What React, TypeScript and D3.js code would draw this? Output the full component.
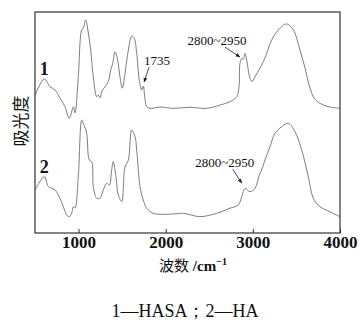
import React, { useRef, useEffect } from "react";
import * as d3 from "d3";

// wavenumber (cm-1) and absorbance (curves are stacked)
const waveHASA = [500, 607, 672, 730, 787, 844, 894, 940, 959, 997, 1036, 1054, 1082, 1112, 1139, 1169, 1208, 1226, 1246, 1265, 1303, 1341, 1369, 1392, 1418, 1444, 1475, 1502, 1533, 1571, 1610, 1639, 1667, 1697, 1724, 1743, 1757, 1782, 1820, 1934, 2087, 2279, 2470, 2623, 2738, 2815, 2841, 2852, 2872, 2890, 2910, 2929, 2967, 2990, 3025, 3082, 3120, 3159, 3216, 3292, 3388, 3464, 3541, 3598, 3656, 3713, 3808, 3885, 4000];
const absHASA = [0.624, 0.697, 0.662, 0.647, 0.611, 0.571, 0.519, 0.571, 0.543, 0.707, 0.919, 0.926, 0.964, 0.905, 0.828, 0.707, 0.617, 0.624, 0.611, 0.639, 0.662, 0.685, 0.738, 0.768, 0.819, 0.792, 0.707, 0.655, 0.723, 0.828, 0.891, 0.881, 0.813, 0.692, 0.647, 0.665, 0.624, 0.571, 0.564, 0.57, 0.564, 0.569, 0.564, 0.579, 0.594, 0.617, 0.662, 0.768, 0.79, 0.786, 0.813, 0.783, 0.7, 0.686, 0.707, 0.747, 0.775, 0.813, 0.873, 0.919, 0.946, 0.919, 0.828, 0.747, 0.656, 0.605, 0.579, 0.57, 0.564];

const waveHA = [500, 607, 653, 730, 787, 825, 864, 894, 921, 940, 959, 997, 1036, 1054, 1093, 1123, 1151, 1169, 1208, 1246, 1284, 1323, 1353, 1380, 1398, 1429, 1456, 1495, 1533, 1571, 1610, 1648, 1667, 1705, 1743, 1782, 1857, 2087, 2202, 2393, 2585, 2738, 2833, 2872, 2910, 2967, 3025, 3074, 3101, 3139, 3197, 3254, 3331, 3407, 3484, 3560, 3636, 3694, 3770, 3885, 4000];
const absHA = [0.195, 0.255, 0.21, 0.195, 0.157, 0.119, 0.081, 0.074, 0.089, 0.119, 0.112, 0.255, 0.511, 0.496, 0.451, 0.33, 0.323, 0.21, 0.157, 0.157, 0.195, 0.225, 0.217, 0.285, 0.323, 0.255, 0.172, 0.142, 0.3, 0.33, 0.466, 0.436, 0.376, 0.21, 0.149, 0.112, 0.089, 0.086, 0.089, 0.074, 0.089, 0.112, 0.127, 0.164, 0.202, 0.187, 0.202, 0.262, 0.285, 0.33, 0.391, 0.451, 0.481, 0.496, 0.458, 0.376, 0.255, 0.157, 0.119, 0.096, 0.074];

const xTicks = [1000, 2000, 3000, 4000];

const curveLabels = ["1", "2"];
const curveLabelWave = [607, 607];
const curveLabelAbs = [0.715, 0.27];

// arrows: tip position on the curve, text placed relative to it
const noteText = ["1735", "2800~2950", "2800~2950"];
const noteWave = [1752, 2852, 2872];
const noteAbs = [0.683, 0.796, 0.226];

const caption = "1—HASA；2—HA";

const App = () => {
  const svgRef = useRef(null);

  useEffect(() => {
    const svg = d3.select(svgRef.current);
    svg.selectAll("*").remove();

    const margin = { top: 12, right: 20, bottom: 87, left: 35 };
    const width = 360 - margin.left - margin.right;
    const height = 320 - margin.top - margin.bottom;

    const x = d3.scaleLinear().domain([500, 4000]).range([0, width]);
    const y = d3.scaleLinear().domain([0, 1]).range([height, 0]);

    const g = svg
      .append("g")
      .attr("transform", `translate(${margin.left},${margin.top})`);

    const defs = svg.append("defs");
    defs
      .append("marker")
      .attr("id", "arrow")
      .attr("viewBox", "0 0 10 10")
      .attr("refX", 9)
      .attr("refY", 5)
      .attr("markerWidth", 6)
      .attr("markerHeight", 6)
      .attr("orient", "auto")
      .append("path")
      .attr("d", "M0,1 L10,5 L0,9 Z")
      .attr("fill", "#222");

    const line = d3
      .line()
      .x((d) => x(d[0]))
      .y((d) => y(d[1]))
      .curve(d3.curveCatmullRom.alpha(0.5));

    [
      [waveHASA, absHASA],
      [waveHA, absHA],
    ].forEach(([w, a]) => {
      g.append("path")
        .datum(w.map((v, i) => [v, a[i]]))
        .attr("d", line)
        .attr("fill", "none")
        .attr("stroke", "#6e6e6e")
        .attr("stroke-width", 0.9);
    });

    // frame
    g.append("rect")
      .attr("width", width)
      .attr("height", height)
      .attr("fill", "none")
      .attr("stroke", "#333")
      .attr("stroke-width", 1.2);

    // bottom axis, ticks inside
    const axis = g
      .append("g")
      .attr("transform", `translate(0,${height})`)
      .call(
        d3
          .axisBottom(x)
          .tickValues(xTicks)
          .tickFormat(d3.format("d"))
          .tickSizeInner(-4)
          .tickSizeOuter(0)
          .tickPadding(3)
      );
    axis.select(".domain").remove();
    axis.selectAll("line").attr("stroke", "#333");
    axis
      .selectAll("text")
      .attr("fill", "#111")
      .style("font-family", "'Liberation Serif', serif")
      .style("font-size", "17px")
      .style("font-weight", "bold");

    // curve numbers
    g.selectAll(".curve-label")
      .data(curveLabels)
      .enter()
      .append("text")
      .attr("x", (_, i) => x(curveLabelWave[i]))
      .attr("y", (_, i) => y(curveLabelAbs[i]))
      .attr("text-anchor", "middle")
      .attr("fill", "#111")
      .style("font-family", "'Liberation Serif', serif")
      .style("font-size", "18px")
      .style("font-weight", "bold")
      .text((d) => d);

    // annotations
    const dxs = [5, -15, -9];
    const dys = [-15, -10, -14];
    noteText.forEach((t, i) => {
      const tx = x(noteWave[i]);
      const ty = y(noteAbs[i]);
      g.append("line")
        .attr("x1", tx + dxs[i])
        .attr("y1", ty + dys[i])
        .attr("x2", tx)
        .attr("y2", ty)
        .attr("stroke", "#222")
        .attr("stroke-width", 0.8)
        .attr("marker-end", "url(#arrow)");
      g.append("text")
        .attr("x", tx + dxs[i] + (i === 0 ? 8 : -8))
        .attr("y", ty + dys[i] - 2)
        .attr("text-anchor", "middle")
        .attr("fill", "#111")
        .style("font-family", "'Liberation Serif', serif")
        .style("font-size", "13px")
        .text(t);
    });

    // axis titles
    const xt = svg
      .append("text")
      .attr("x", 193)
      .attr("y", 271)
      .attr("text-anchor", "middle")
      .attr("fill", "#111")
      .style("font-size", "15px");
    xt.append("tspan")
      .style("font-family", "'Noto Sans CJK SC', sans-serif")
      .text("波数");
    xt.append("tspan")
      .style("font-family", "'Liberation Serif', serif")
      .style("font-weight", "bold")
      .text(" /cm");
    xt.append("tspan")
      .style("font-family", "'Liberation Serif', serif")
      .style("font-weight", "bold")
      .style("font-size", "10px")
      .attr("dy", -6)
      .text("−1");

    svg
      .append("text")
      .attr("transform", "translate(27,121) rotate(-90)")
      .attr("text-anchor", "middle")
      .attr("fill", "#111")
      .style("font-family", "'Noto Sans CJK SC', sans-serif")
      .style("font-size", "17px")
      .text("吸光度");

    svg
      .append("text")
      .attr("x", 185)
      .attr("y", 317)
      .attr("text-anchor", "middle")
      .attr("fill", "#111")
      .style("font-family", "'Liberation Serif', serif")
      .style("font-size", "18px")
      .text(caption);
  }, []);

  return (
    <svg
      ref={svgRef}
      width={360}
      height={320}
      style={{ position: "absolute", left: 0, top: 0, background: "#fff" }}
    ></svg>
  );
};

export default App;
